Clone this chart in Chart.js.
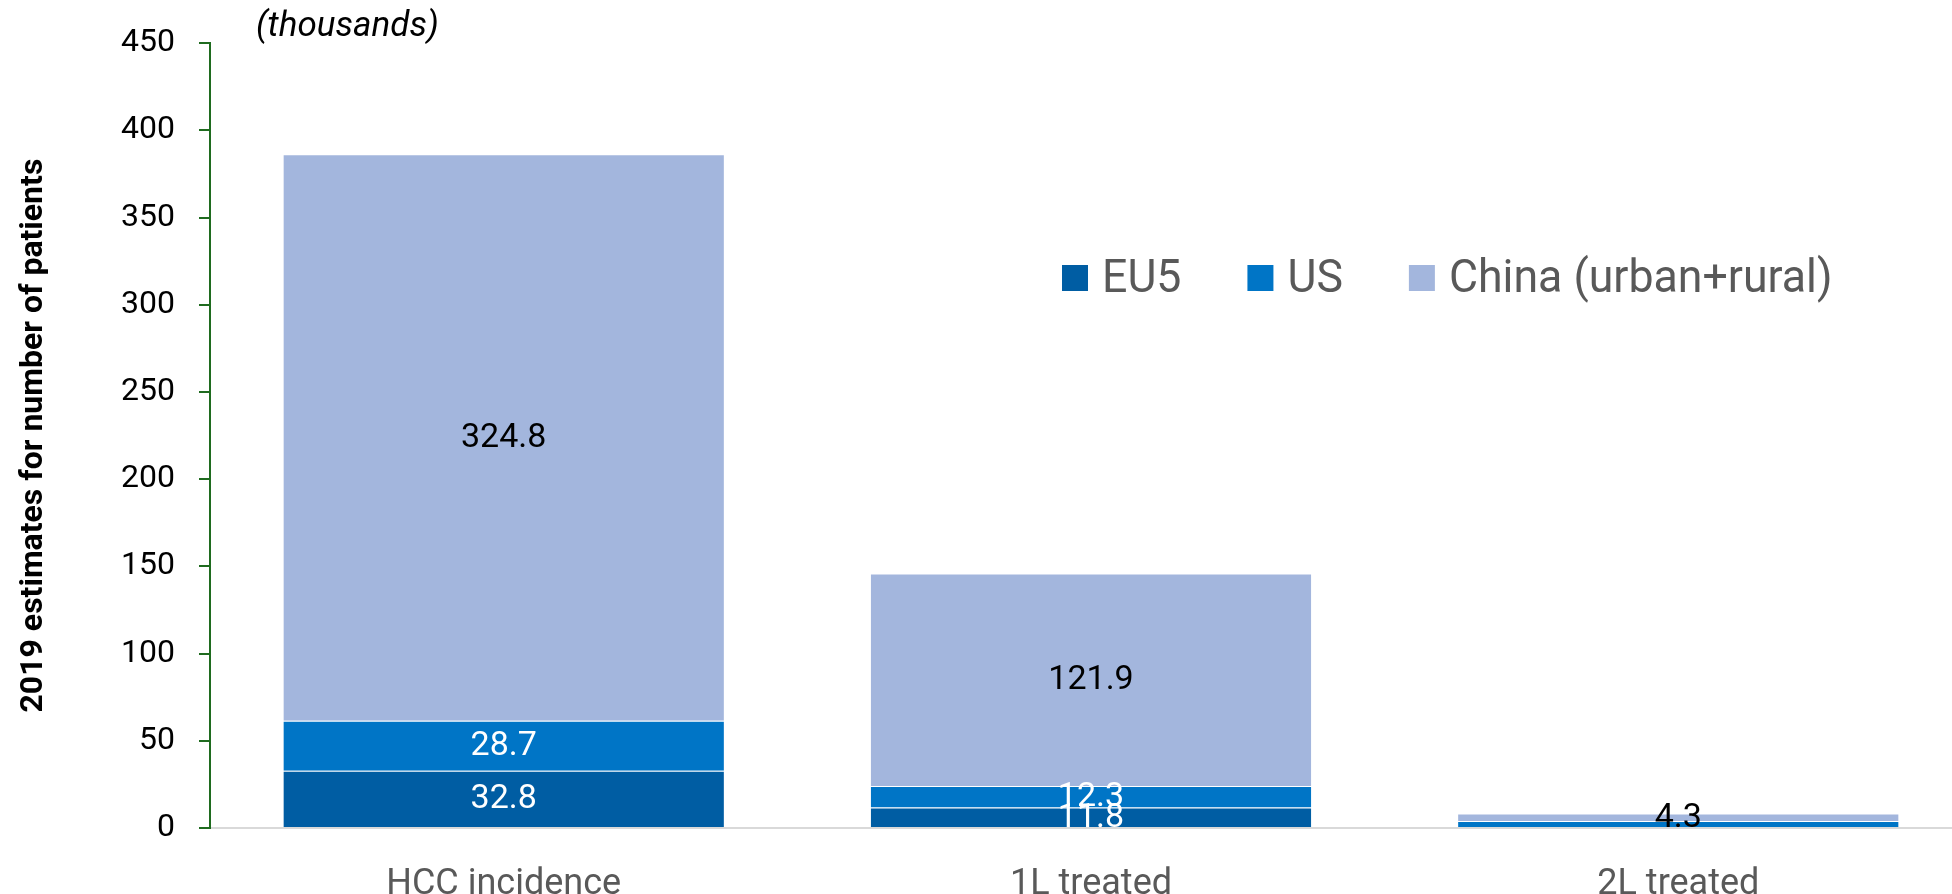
<!DOCTYPE html>
<html>
<head>
<meta charset="utf-8">
<script src="https://cdn.jsdelivr.net/npm/chart.js@4.4.1/dist/chart.umd.min.js"></script>
<style>
  html, body { margin: 0; padding: 0; background: #fff; overflow: hidden; }
  #wrap { width: 1972px; height: 894px; }
</style>
</head>
<body>
<div id="wrap"><canvas id="chart"></canvas></div>
<script>
var categories = ['HCC incidence', '1L treated', '2L treated'];
var eu5 = [32.8, 11.8, 0];
var us = [28.7, 12.3, 4.0];
var china = [324.8, 121.9, 4.3];
var seriesNames = ['EU5', 'US', 'China (urban+rural)'];
var seriesColors = ['#005DA3', '#0075C6', '#A3B6DD'];
var labelColors = ['#FFFFFF', '#FFFFFF', '#000000'];
var yTicks = [0, 50, 100, 150, 200, 250, 300, 350, 400, 450];
var yTitle = '2019 estimates for number of patients';
var unitNote = '(thousands)';

var axisGreen = '#1F6B1F';

// value labels in the middle of each segment
var valueLabels = {
    id: 'valueLabels',
    afterDatasetsDraw: function(chart) {
        var ctx = chart.ctx;
        ctx.save();
        ctx.font = '34px Roboto';
        ctx.textAlign = 'center';
        ctx.textBaseline = 'middle';
        chart.data.datasets.forEach(function(ds, i) {
            var meta = chart.getDatasetMeta(i);
            meta.data.forEach(function(bar, j) {
                var v = ds.data[j];
                if (!v) return;
                var h = Math.abs(bar.base - bar.y);
                if (h < 10 && labelColors[i] != '#000000') return;
                ctx.fillStyle = labelColors[i];
                ctx.fillText(v.toFixed(1), bar.x, (bar.y + bar.base) / 2 + 1);
            });
        });
        ctx.restore();
    }
};

// legend inside the plot + the "(thousands)" note
var extras = {
    id: 'extras',
    afterDraw: function(chart) {
        var ctx = chart.ctx;
        ctx.save();
        ctx.font = 'italic 35px Roboto';
        ctx.fillStyle = '#000';
        ctx.textBaseline = 'alphabetic';
        ctx.fillText(unitNote, 256, 36);

        var squeeze = 0.95;
        var x = 1062;
        ctx.font = '47px Roboto';
        seriesNames.forEach(function(name, i) {
            ctx.fillStyle = seriesColors[i];
            ctx.fillRect(x, 265, 26, 26);
            x += 40;
            var w = ctx.measureText(name).width * squeeze;
            ctx.save();
            ctx.translate(x, 292);
            ctx.scale(squeeze, 1);
            ctx.fillStyle = '#595959';
            ctx.fillText(name, 0, 0);
            ctx.restore();
            x += w + 66;
        });
        ctx.restore();
    }
};

var series = [eu5, us, china];
var ctx = document.getElementById('chart');
var chart = new Chart(ctx, {
    type: 'bar',
    data: {
        labels: categories,
        datasets: series.map(function(d, i) {
            return {
                label: seriesNames[i],
                data: d,
                backgroundColor: seriesColors[i],
                borderColor: 'rgba(255,255,255,0.3)',
                borderWidth: {top: 1, right: 0, bottom: 0, left: 0},
                borderSkipped: 'bottom',
                barPercentage: 1,
                categoryPercentage: 0.75
            };
        })
    },
    options: {
        responsive: true,
        maintainAspectRatio: false,
        animation: false,
        layout: { padding: { top: 42, right: 0, bottom: 0, left: 0 } },
        plugins: {
            legend: { display: false },
            tooltip: { enabled: false }
        },
        scales: {
            x: {
                stacked: true,
                grid: { display: false },
                border: { display: true, color: '#D9D9D9', width: 2 },
                ticks: { color: '#595959', font: { family: 'Roboto', size: 36 }, padding: 27 },
                afterFit: function(scale) { scale.height = 66; }
            },
            y: {
                stacked: true,
                min: yTicks[0],
                max: yTicks[yTicks.length - 1],
                ticks: {
                    stepSize: yTicks[1] - yTicks[0],
                    color: '#000',
                    font: { family: 'Roboto', size: 32 },
                    padding: 24
                },
                grid: { display: true, drawOnChartArea: false, drawTicks: true, tickLength: 11, color: axisGreen, lineWidth: 2 },
                border: { display: true, color: axisGreen, width: 2 },
                title: {
                    display: true,
                    text: yTitle,
                    color: '#000',
                    font: { family: 'Roboto', size: 32, weight: 'bold' },
                    padding: { top: 15, bottom: 0 }
                },
                afterFit: function(scale) { scale.width = 210; }
            }
        }
    },
    plugins: [valueLabels, extras]
});
</script>
</body>
</html>
